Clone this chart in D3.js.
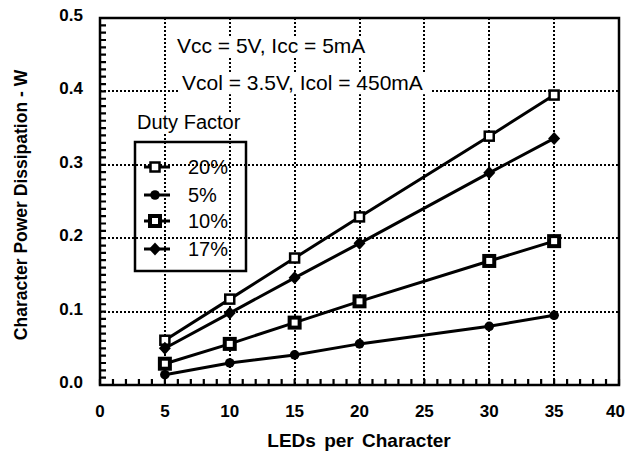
<!DOCTYPE html>
<html><head><meta charset="utf-8">
<script src="https://cdn.jsdelivr.net/npm/d3@7/dist/d3.min.js"></script>
<style>body{margin:0;background:#fff;}svg{display:block;}</style>
</head><body>
<svg id="chart" width="626" height="452"></svg>
<script>
const leds = [5, 10, 15, 20, 30, 35];
const df20 = [0.061, 0.117, 0.173, 0.229, 0.339, 0.395];
const df5  = [0.014, 0.030, 0.041, 0.056, 0.080, 0.095];
const df10 = [0.029, 0.056, 0.085, 0.114, 0.169, 0.196];
const df17 = [0.050, 0.098, 0.146, 0.193, 0.289, 0.336];
const seriesNames = ["20%", "5%", "10%", "17%"];
const xTicks = [0, 5, 10, 15, 20, 25, 30, 35, 40];
const yTicks = [0.0, 0.1, 0.2, 0.3, 0.4, 0.5];
const xTitle = "LEDs per Character";
const yTitle = "Character Power Dissipation - W";
const note1 = "Vcc = 5V, Icc = 5mA";
const note2 = "Vcol = 3.5V, Icol = 450mA";
const legendTitle = "Duty Factor";

const series = [
  {name: seriesNames[0], values: df20, marker: "openSquare"},
  {name: seriesNames[1], values: df5, marker: "circle"},
  {name: seriesNames[2], values: df10, marker: "boldSquare"},
  {name: seriesNames[3], values: df17, marker: "diamond"}
];

const svg = d3.select("#chart");
const L = 100, R = 619, T = 18, B = 385;
const x = d3.scaleLinear().domain([0, 40]).range([L, R]);
const y = d3.scaleLinear().domain([0, 0.5]).range([B, T]);
const font = "'Liberation Sans', Arial, Helvetica, sans-serif";

// data lines first
const line = d3.line().x((d, i) => x(leds[i])).y(d => y(d));
series.forEach(s => {
  svg.append("path").attr("d", line(s.values)).attr("fill", "none")
    .attr("stroke", "#000").attr("stroke-width", 3);
});

// gridlines (dotted)
const vPath = xTicks.slice(1, -1).map(d => `M${Math.round(x(d))},${T}V${B}`).join("");
const hPath = yTicks.slice(1, -1).map(d => `M${L},${Math.round(y(d))}H${R}`).join("");
svg.append("path").attr("d", vPath + hPath)
  .attr("fill", "none").attr("stroke", "#000").attr("stroke-width", 2).attr("stroke-dasharray", "2,2");

// inward minor ticks
const yMinor = d3.range(0, 51).map(i => i / 100);
const xMinor = d3.range(0, 41);
const tickPath = yMinor.map(d => `M${L},${y(d)}h6`).join("") + xMinor.map(d => `M${x(d)},${B}v-6`).join("");
svg.append("path").attr("d", tickPath).attr("fill", "none").attr("stroke", "#000").attr("stroke-width", 2.2);

// annotations with white backgrounds
function whiteText(tx, ty, str, size) {
  svg.append("rect").attr("x", tx - 2).attr("y", ty - size * 0.8)
    .attr("width", str.length * size * 0.47 + 4).attr("height", size).attr("fill", "#fff");
  svg.append("text").attr("x", tx).attr("y", ty).text(str)
    .attr("font-family", font).attr("font-size", size);
}
whiteText(177, 53, note1, 21);
whiteText(182, 90, note2, 21);
whiteText(137, 129, legendTitle, 20);

// tick labels
svg.append("g").selectAll("text").data(yTicks).enter().append("text")
  .attr("x", 83).attr("y", d => y(d) + 3).attr("text-anchor", "end")
  .attr("font-family", font).attr("font-size", 17).attr("font-weight", "bold")
  .text(d => d3.format(".1f")(d));
svg.append("g").selectAll("text").data(xTicks).enter().append("text")
  .attr("x", d => d === 40 ? 625 : x(d)).attr("y", 417)
  .attr("text-anchor", d => d === 40 ? "end" : "middle")
  .attr("font-family", font).attr("font-size", 17).attr("font-weight", "bold")
  .text(d => d);

// titles
svg.append("text").attr("x", 359).attr("y", 447).attr("text-anchor", "middle")
  .attr("font-family", font).attr("font-size", 19).attr("font-weight", "bold")
  .attr("word-spacing", 3).text(xTitle);
svg.append("text").attr("transform", "translate(27,205) rotate(-90)").attr("text-anchor", "middle")
  .attr("font-family", font).attr("font-size", 17.5).attr("font-weight", "bold").text(yTitle);

// frame
svg.append("rect").attr("x", L).attr("y", T).attr("width", R - L).attr("height", B - T)
  .attr("fill", "none").attr("stroke", "#000").attr("stroke-width", 2.5);

function drawMarker(g, type, cx, cy) {
  if (type === "openSquare") {
    g.append("rect").attr("x", cx - 4.5).attr("y", cy - 4.5).attr("width", 9).attr("height", 9)
      .attr("fill", "#fff").attr("stroke", "#000").attr("stroke-width", 2.5);
  } else if (type === "boldSquare") {
    g.append("rect").attr("x", cx - 5).attr("y", cy - 5).attr("width", 10).attr("height", 10)
      .attr("fill", "#fff").attr("stroke", "#000").attr("stroke-width", 4);
  } else if (type === "circle") {
    g.append("circle").attr("cx", cx).attr("cy", cy).attr("r", 4.8).attr("fill", "#000");
  } else if (type === "diamond") {
    g.append("path").attr("d", `M${cx},${cy - 6.5}L${cx + 6},${cy}L${cx},${cy + 6.5}L${cx - 6},${cy}Z`).attr("fill", "#000");
  }
}
series.forEach(s => {
  s.values.forEach((v, i) => drawMarker(svg, s.marker, x(leds[i]), y(v)));
});

// legend
svg.append("rect").attr("x", 135).attr("y", 142).attr("width", 111).attr("height", 129)
  .attr("fill", "none").attr("stroke", "#000").attr("stroke-width", 2.5);
const legY = [167, 195, 221, 249];
series.forEach((s, i) => {
  svg.append("line").attr("x1", 144).attr("x2", 170).attr("y1", legY[i]).attr("y2", legY[i])
    .attr("stroke", "#000").attr("stroke-width", 3);
  drawMarker(svg, s.marker, 155, legY[i]);
  svg.append("text").attr("x", 188).attr("y", legY[i] + 7).text(s.name)
    .attr("font-family", font).attr("font-size", 20);
});
</script>
</body></html>
